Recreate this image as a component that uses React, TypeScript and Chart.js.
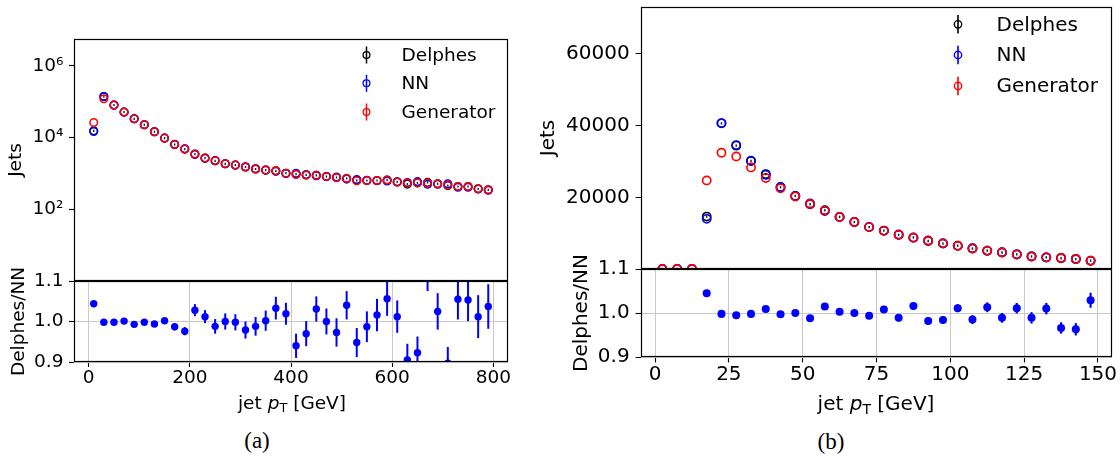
import React, { useEffect, useRef } from 'react';
import { Chart, registerables } from 'chart.js';

Chart.register(...registerables);
Chart.defaults.font.family = "'DejaVu Sans'";
Chart.defaults.color = '#000';

// ---------------- data: panel (a) ----------------
const ptA = [10, 30, 50, 70, 90, 110, 130, 150, 170, 190, 210, 230, 250, 270, 290, 310, 330, 350, 370, 390,
  410, 430, 450, 470, 490, 510, 530, 550, 570, 590, 610, 630, 650, 670, 690, 710, 730, 750, 770, 790];
const delphesA = [15350, 138700, 80000, 51000, 33200, 22600, 14400, 9620, 6380, 4750, 3450, 2670, 2240, 1850, 1700, 1500, 1320, 1235, 1180, 1010,
  950, 905, 884, 818, 769, 721, 640, 634, 634, 651, 583, 503, 545, 560, 513, 460, 431, 431, 372, 349];
const nnA = [14700, 139000, 80160, 50950, 33430, 22650, 14490, 9600, 6460, 4870, 3360, 2640, 2270, 1850, 1700, 1530, 1340, 1230, 1140, 990,
  1010, 935, 857, 818, 790, 693, 675, 642, 624, 616, 576, 556, 590, 500, 500, 513, 409, 409, 368, 337];
const genA = [26200, 120000, 80000, 51000, 33200, 22600, 14400, 9620, 6380, 4750, 3450, 2670, 2240, 1850, 1700, 1500, 1320, 1235, 1180, 1010,
  950, 905, 884, 818, 769, 721, 625, 634, 634, 651, 570, 537, 545, 540, 513, 470, 431, 431, 372, 349];
const ratioA = [1.044, 0.998, 0.998, 1.001, 0.993, 0.998, 0.994, 1.002, 0.987, 0.976, 1.028, 1.012, 0.988, 1.0, 0.998, 0.979, 0.988, 1.002, 1.033, 1.019,
  0.94, 0.97, 1.031, 1.0, 0.973, 1.04, 0.948, 0.987, 1.016, 1.056, 1.012, 0.905, 0.923, 1.12, 1.025, 0.897, 1.055, 1.053, 1.012, 1.037];
const ratioErrA = [0.004, 0.003, 0.003, 0.004, 0.005, 0.005, 0.006, 0.007, 0.009, 0.01, 0.015, 0.016, 0.018, 0.02, 0.02, 0.021, 0.023, 0.025, 0.028, 0.027,
  0.03, 0.031, 0.031, 0.032, 0.035, 0.035, 0.036, 0.038, 0.04, 0.042, 0.04, 0.04, 0.04, 0.045, 0.045, 0.04, 0.05, 0.052, 0.053, 0.055];

// ---------------- data: panel (b) ----------------
const ptB = [2.5, 7.5, 12.5, 17.5, 22.5, 27.5, 32.5, 37.5, 42.5, 47.5, 52.5, 57.5, 62.5, 67.5, 72.5,
  77.5, 82.5, 87.5, 92.5, 97.5, 102.5, 107.5, 112.5, 117.5, 122.5, 127.5, 132.5, 137.5, 142.5, 147.5];
const delphesB = [0, 0, 0, 14630, 40640, 34410, 30140, 26480, 22800, 20360, 18080, 16390, 14540, 13110, 11680,
  10720, 9520, 8820, 7810, 7090, 6520, 5710, 5130, 4600, 4090, 3500, 3250, 3000, 2740, 2340];
const nnB = [0, 0, 0, 14000, 40720, 34580, 30200, 26250, 22870, 20360, 18300, 16150, 14500, 13110, 11750,
  10640, 9620, 8680, 7950, 7200, 6450, 5800, 5060, 4660, 4040, 3540, 3220, 3110, 2840, 2280];
const genB = [0, 0, 0, 24710, 32440, 31400, 28340, 25380, 22500, 20200, 18150, 16300, 14500, 13100, 11700,
  10700, 9570, 8750, 7880, 7150, 6500, 5750, 5100, 4630, 4070, 3510, 3240, 3060, 2790, 2310];
const ratioB = [null, null, null, 1.045, 0.998, 0.995, 0.998, 1.009, 0.997, 1.0, 0.988, 1.015, 1.003, 1.0, 0.994,
  1.008, 0.989, 1.016, 0.982, 0.984, 1.011, 0.985, 1.013, 0.989, 1.011, 0.989, 1.01, 0.966, 0.963, 1.029];
const ratioErrB = [0, 0, 0, 0.005, 0.004, 0.004, 0.004, 0.005, 0.005, 0.005, 0.006, 0.006, 0.006, 0.007, 0.007,
  0.007, 0.008, 0.008, 0.008, 0.009, 0.009, 0.01, 0.011, 0.011, 0.012, 0.013, 0.013, 0.013, 0.014, 0.017];

// ---------------- ticks / labels ----------------
const yTicksA = [1e2, 1e4, 1e6];
const yTickLabelsA = ['10²', '10⁴', '10⁶'];
const yTicksB = [20000, 40000, 60000];
const yTickLabelsB = ['20000', '40000', '60000'];
const ratioTicks = [0.9, 1.0, 1.1];
const ratioTickLabels = ['0.9', '1.0', '1.1'];
const xTicksA = [0, 200, 400, 600, 800];
const xTicksB = [0, 25, 50, 75, 100, 125, 150];
const seriesNames = ['Delphes', 'NN', 'Generator'];
const seriesColors = ['#000000', '#0000ff', '#ff0000'];
const ratioColor = '#0000ff';
const yTitleMain = 'Jets';
const yTitleRatio = 'Delphes/NN';

type Geo = {
  L: number; T: number; W: number; Hm: number; Hr: number; s: number; fs: number;
  cx0: number; cw: number; jetsPad: number; ratioPad: number; xMin: number; xMax: number;
  legSymX: number; legTextX: number; legRows: number[]; xTickPad: number;
};

const GA: Geo = {
  L: 74, T: 39, W: 434, Hm: 242, Hr: 81, s: 1, fs: 18.5, cx0: 0, cw: 520,
  jetsPad: 4.7, ratioPad: 7.9, xMin: -29, xMax: 829,
  legSymX: 366.5, legTextX: 401.5, legRows: [55, 83.3, 112], xTickPad: 0,
};
const GB: Geo = {
  L: 641, T: 7, W: 471, Hm: 262, Hr: 88, s: 1.083, fs: 20, cx0: 530, cw: 590,
  jetsPad: 7, ratioPad: 39.5, xMin: -4.75, xMax: 154.75,
  legSymX: 958, legTextX: 996.5, legRows: [24.3, 55, 86], xTickPad: 0.6,
};
const PAGE_BOTTOM = 420;
const RATIO_OVER = 34;

const framePlugin = (lw: number) => ({
  id: 'frame',
  afterDatasetsDraw(chart: any) {
    const { ctx, chartArea: a } = chart;
    ctx.save();
    ctx.strokeStyle = '#000';
    ctx.lineWidth = lw;
    ctx.strokeRect(a.left + 0.5, a.top + 0.5, a.right - a.left - 1, a.bottom - a.top - 1);
    ctx.restore();
  },
});

const errorBarPlugin = (lw: number) => ({
  id: 'errbars',
  beforeDatasetDraw(chart: any, args: any) {
    const ds = chart.data.datasets[args.index];
    const ys = chart.scales.y;
    const { ctx, chartArea: a } = chart;
    ctx.save();
    ctx.beginPath();
    ctx.rect(a.left, a.top, a.right - a.left, a.bottom - a.top);
    ctx.clip();
    ctx.strokeStyle = ds.borderColor;
    ctx.lineWidth = lw;
    args.meta.data.forEach((el: any, i: number) => {
      const raw = ds.data[i];
      const e = raw.e || 0;
      const y1 = ys.getPixelForValue(raw.y + e);
      const y2 = ys.getPixelForValue(raw.y - e);
      ctx.beginPath();
      ctx.moveTo(el.x, y1);
      ctx.lineTo(el.x, y2);
      ctx.stroke();
    });
    ctx.restore();
  },
});

const centerMarkPlugin = (s: number) => ({
  id: 'centermark',
  afterDatasetsDraw(chart: any) {
    const { ctx, chartArea: a } = chart;
    ctx.save();
    ctx.beginPath();
    ctx.rect(a.left, a.top, a.right - a.left, a.bottom - a.top);
    ctx.clip();
    ctx.strokeStyle = '#222';
    ctx.lineWidth = 1.4 * s;
    const meta = chart.getDatasetMeta(0);
    meta.data.forEach((el: any) => {
      ctx.beginPath();
      ctx.moveTo(el.x, el.y - 1.1 * s);
      ctx.lineTo(el.x, el.y + 1.1 * s);
      ctx.stroke();
    });
    ctx.restore();
  },
});

const legendPlugin = (g: Geo) => ({
  id: 'legendDraw',
  afterDraw(chart: any) {
    const ctx = chart.ctx;
    ctx.save();
    seriesNames.forEach((n, i) => {
      const cx = g.legSymX - g.cx0;
      const cy = g.legRows[i];
      ctx.strokeStyle = seriesColors[i];
      ctx.lineWidth = 1.5 * g.s;
      ctx.beginPath();
      ctx.moveTo(cx, cy - 8.5 * g.s);
      ctx.lineTo(cx, cy + 8.5 * g.s);
      ctx.stroke();
      ctx.lineWidth = 1.3 * g.s;
      ctx.beginPath();
      ctx.arc(cx, cy, 3.4 * g.s, 0, Math.PI * 2);
      ctx.stroke();
      ctx.fillStyle = '#000';
      ctx.font = `${g.fs}px 'DejaVu Sans'`;
      ctx.textBaseline = 'middle';
      ctx.textAlign = 'left';
      ctx.fillText(n, g.legTextX - g.cx0, cy + 1);
    });
    ctx.restore();
  },
});

function zeroPads(a: any) {
  a.paddingTop = 0; a.paddingBottom = 0; a.paddingLeft = 0; a.paddingRight = 0;
}

function yAxis(g: Geo, vals: number[], labels: string[], title: string, pad: number, onArea: boolean, extra: any) {
  return {
    position: 'left',
    ...extra,
    afterFit: (a: any) => { a.width = g.L - g.cx0; zeroPads(a); },
    afterBuildTicks: (a: any) => { a.ticks = vals.map((v) => ({ value: v })); },
    ticks: {
      callback: (v: number) => {
        const i = vals.findIndex((t) => Math.abs(t - v) < Math.abs(t) * 1e-6 + 1e-9);
        return i >= 0 ? labels[i] : '';
      },
      font: { size: g.fs }, color: '#000', padding: 5.5 * g.s, autoSkip: false,
    },
    grid: {
      drawOnChartArea: onArea, drawTicks: true, tickLength: 5 * g.s, tickColor: '#000', tickWidth: 1.1,
      color: '#c8c8c8', lineWidth: 1,
    },
    border: { display: false },
    title: { display: true, text: title, font: { size: g.fs }, color: '#000', padding: { top: pad, bottom: 0 } },
  };
}

function mainConfig(g: Geo, xs: number[], vals: number[][], yExtra: any, yVals: number[], yLabels: string[]): any {
  const orders = [2, 1, 0];
  return {
    type: 'scatter',
    data: {
      datasets: vals.map((v, k) => ({
        label: seriesNames[k],
        data: xs.map((x, i) => ({ x, y: v[i] })),
        borderColor: seriesColors[k],
        backgroundColor: 'rgba(0,0,0,0)',
        pointRadius: 3.8 * g.s,
        pointBorderWidth: 1.5 * g.s,
        pointHoverRadius: 3.8 * g.s,
        order: orders[k],
        clip: 0,
      })),
    },
    options: {
      responsive: false, animation: false, events: [],
      layout: { padding: { left: 0, top: g.T, right: g.cx0 + g.cw - (g.L + g.W), bottom: 0 }, autoPadding: false },
      plugins: { legend: { display: false }, tooltip: { enabled: false } },
      scales: {
        x: { type: 'linear', display: false, min: g.xMin, max: g.xMax },
        y: yAxis(g, yVals, yLabels, yTitleMain, g.jetsPad, false, yExtra),
      },
    },
    plugins: [centerMarkPlugin(g.s), framePlugin(1.2), legendPlugin(g)],
  };
}

function ratioConfig(g: Geo, xs: number[], r: (number | null)[], err: number[], xVals: number[]): any {
  const data: any[] = [];
  xs.forEach((x, i) => { if (r[i] !== null) data.push({ x, y: r[i], e: err[i] }); });
  return {
    type: 'scatter',
    data: {
      datasets: [{
        label: yTitleRatio, data,
        borderColor: ratioColor, backgroundColor: ratioColor,
        pointRadius: 3.7 * g.s, pointBorderWidth: 0, pointHoverRadius: 3.7 * g.s, clip: 0,
      }],
    },
    options: {
      responsive: false, animation: false, events: [],
      layout: { padding: { left: 0, top: RATIO_OVER, right: g.cx0 + g.cw - (g.L + g.W), bottom: 0 }, autoPadding: false },
      plugins: { legend: { display: false }, tooltip: { enabled: false } },
      scales: {
        x: {
          type: 'linear', position: 'bottom', min: g.xMin, max: g.xMax,
          afterFit: (a: any) => { a.height = PAGE_BOTTOM - (g.T + g.Hm + g.Hr); zeroPads(a); },
          afterBuildTicks: (a: any) => { a.ticks = xVals.map((v) => ({ value: v })); },
          ticks: { callback: (v: number) => String(v), font: { size: g.fs }, color: '#000', padding: g.xTickPad, maxRotation: 0, autoSkip: false },
          grid: { color: '#c8c8c8', lineWidth: 1, drawTicks: true, tickLength: 5 * g.s, tickColor: '#000', tickWidth: 1.1 },
          border: { display: false },
        },
        y: yAxis(g, ratioTicks, ratioTickLabels, yTitleRatio, g.ratioPad, true, { type: 'linear', min: 0.9, max: 1.1 }),
      },
    },
    plugins: [errorBarPlugin(2 * g.s), framePlugin(1.2)],
  };
}

function XTitle({ cx, fs }: { cx: number; fs: number }) {
  return (
    <div style={{
      position: 'absolute', left: cx - 150, width: 300, top: 403 - 12, height: 24, lineHeight: '24px',
      textAlign: 'center', fontFamily: "'DejaVu Sans'", fontSize: fs, color: '#000', whiteSpace: 'nowrap',
    }}>
      jet <span style={{ fontStyle: 'italic' }}>p</span>
      <span style={{ fontSize: '0.7em', position: 'relative', top: '0.25em' }}>T</span> [GeV]
    </div>
  );
}

function Caption({ cx, cy, text }: { cx: number; cy: number; text: string }) {
  return (
    <div style={{
      position: 'absolute', left: cx - 40, width: 80, top: cy - 14, height: 28, lineHeight: '28px',
      textAlign: 'center', fontFamily: "'Liberation Serif'", fontSize: 23, color: '#000',
    }}>{text}</div>
  );
}

export default function App() {
  const r1 = useRef<HTMLCanvasElement>(null);
  const r2 = useRef<HTMLCanvasElement>(null);
  const r3 = useRef<HTMLCanvasElement>(null);
  const r4 = useRef<HTMLCanvasElement>(null);

  useEffect(() => {
    const charts = [
      new Chart(r1.current as HTMLCanvasElement, mainConfig(GA, ptA, [delphesA, nnA, genA],
        { type: 'logarithmic', min: 1, max: 5.57e6 }, yTicksA, yTickLabelsA)),
      new Chart(r2.current as HTMLCanvasElement, ratioConfig(GA, ptA, ratioA, ratioErrA, xTicksA)),
      new Chart(r3.current as HTMLCanvasElement, mainConfig(GB, ptB, [delphesB, nnB, genB],
        { type: 'linear', min: 0, max: 73100 }, yTicksB, yTickLabelsB)),
      new Chart(r4.current as HTMLCanvasElement, ratioConfig(GB, ptB, ratioB, ratioErrB, xTicksB)),
    ];
    return () => charts.forEach((c) => c.destroy());
  }, []);

  const mainH = (g: Geo) => g.T + g.Hm;
  const ratioTop = (g: Geo) => g.T + g.Hm - RATIO_OVER;
  const cs = (g: Geo, top: number, h: number): React.CSSProperties => ({
    position: 'absolute', left: g.cx0, top, width: g.cw, height: h,
  });

  return (
    <div style={{ position: 'absolute', left: 0, top: 0, width: 1120, height: 458, background: '#fff', overflow: 'hidden' }}>
      <canvas ref={r1} width={GA.cw} height={mainH(GA)} style={cs(GA, 0, mainH(GA))} />
      <canvas ref={r2} width={GA.cw} height={PAGE_BOTTOM - ratioTop(GA)} style={cs(GA, ratioTop(GA), PAGE_BOTTOM - ratioTop(GA))} />
      <canvas ref={r3} width={GB.cw} height={mainH(GB)} style={cs(GB, 0, mainH(GB))} />
      <canvas ref={r4} width={GB.cw} height={PAGE_BOTTOM - ratioTop(GB)} style={cs(GB, ratioTop(GB), PAGE_BOTTOM - ratioTop(GB))} />
      <XTitle cx={292} fs={GA.fs} />
      <XTitle cx={876} fs={GB.fs} />
      <Caption cx={257} cy={441} text="(a)" />
      <Caption cx={831} cy={442} text="(b)" />
    </div>
  );
}
